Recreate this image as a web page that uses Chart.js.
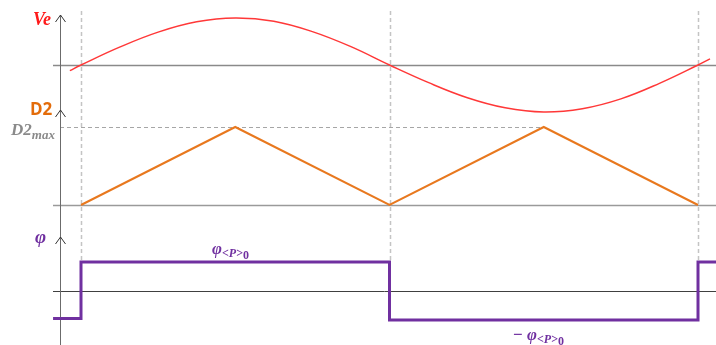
<!DOCTYPE html>
<html>
<head>
<meta charset="utf-8">
<script src="https://cdn.jsdelivr.net/npm/chart.js@4.4.1/dist/chart.umd.min.js"></script>
<style>
  html, body { margin: 0; padding: 0; background: #fff; }
  #wrap { width: 716px; height: 345px; position: relative; }
</style>
</head>
<body>
<div id="wrap"><canvas id="canvas"></canvas></div>
<script>
// angle in degrees, one period of the input voltage
const veAngles = [-6.5, 0, 22.5, 45, 67.5, 90, 112.5, 135, 157.5, 180, 202.5, 225, 247.5, 270, 292.5, 315, 337.5, 360, 367];
const veValues = [-0.12, 0, 0.38, 0.7, 0.92, 1, 0.93, 0.71, 0.39, 0, -0.37, -0.69, -0.91, -1, -0.93, -0.72, -0.39, 0, 0.13];

const d2Angles = [0, 90, 180, 270, 360];
const d2Values = [0, 1, 0, 1, 0];

const phiAngles = [-16.3, 0, 180, 360, 372];
const phiValues = [-0.95, 1, -1, 1, 1];

const zeroCrossings = [0, 180, 360];
const d2maxEnd = 270;

const toPoints = (xs, ys) => xs.map((x, i) => ({ x: x, y: ys[i] }));

const AXIS_X = 60;
const LINE_START = 53;

function subText(ctx, x, y, parts) {
  // parts: [text, font, color, dy]
  let cx = x;
  parts.forEach(p => {
    ctx.font = p[1];
    ctx.fillStyle = p[2];
    ctx.fillText(p[0], cx, y + (p[3] || 0));
    cx += ctx.measureText(p[0]).width;
  });
}

const decor = {
  id: 'decor',
  beforeDatasetsDraw(chart) {
    const ctx = chart.ctx;
    const sx = chart.scales.x;
    const yVe = chart.scales.yVe, yD2 = chart.scales.yD2, yPhi = chart.scales.yPhi;
    const right = chart.width;
    ctx.save();

    // vertical dashed lines at zero crossings
    ctx.strokeStyle = '#c4c4c4';
    ctx.lineWidth = 1.5;
    ctx.setLineDash([4, 3]);
    zeroCrossings.forEach(a => {
      const px = Math.round(sx.getPixelForValue(a)) + 0.5;
      ctx.beginPath();
      ctx.moveTo(px, 11);
      ctx.lineTo(px, yPhi.getPixelForValue(1));
      ctx.stroke();
    });

    // D2max dashed
    ctx.strokeStyle = '#a6a6a6';
    ctx.lineWidth = 1;
    const ymax = Math.round(yD2.getPixelForValue(1)) + 0.5;
    ctx.beginPath();
    ctx.moveTo(AXIS_X, ymax);
    ctx.lineTo(sx.getPixelForValue(d2maxEnd), ymax);
    ctx.stroke();
    ctx.setLineDash([]);

    // baselines
    [[yVe, '#8a8a8a', 1.5], [yD2, '#9a9a9a', 1.5], [yPhi, '#404040', 1]].forEach(b => {
      const py = Math.round(b[0].getPixelForValue(0)) + 0.5;
      ctx.strokeStyle = b[1];
      ctx.lineWidth = b[2];
      ctx.beginPath();
      ctx.moveTo(LINE_START, py);
      ctx.lineTo(right, py);
      ctx.stroke();
    });

    // vertical axis with arrow heads
    ctx.strokeStyle = '#6b6b6b';
    ctx.lineWidth = 1;
    ctx.beginPath();
    ctx.moveTo(AXIS_X + 0.5, 15);
    ctx.lineTo(AXIS_X + 0.5, chart.height);
    ctx.stroke();
    ctx.strokeStyle = '#333';
    [15, 110, 237].forEach(t => {
      ctx.beginPath();
      ctx.moveTo(AXIS_X - 4.5, t + 7);
      ctx.lineTo(AXIS_X + 0.5, t);
      ctx.lineTo(AXIS_X + 5.5, t + 7);
      ctx.stroke();
    });
    ctx.restore();
  },
  afterDraw(chart) {
    const ctx = chart.ctx;
    ctx.save();
    ctx.textBaseline = 'alphabetic';
    ctx.textAlign = 'left';
    const purple = '#7030a0';
    subText(ctx, 33, 25, [['Ve', "bold italic 18px 'Liberation Serif'", '#ff1a1a']]);
    subText(ctx, 30, 115, [['D2', "bold 17px 'Open Sans'", '#e36c0a']]);
    subText(ctx, 11, 135, [['D2', "bold italic 17px 'Liberation Serif'", '#8a8a8a'],
                           ['max', "bold italic 13px 'Liberation Serif'", '#8a8a8a', 4]]);
    subText(ctx, 35, 243, [['φ', "bold italic 19px 'Liberation Serif'", purple]]);
    subText(ctx, 212, 254, [['φ', "bold italic 17px 'Liberation Serif'", purple],
                            ['<P>', "bold italic 12px 'Liberation Serif'", purple, 3],
                            ['0', "bold 12px 'Liberation Serif'", purple, 5]]);
    subText(ctx, 513, 340, [['− ', "bold 17px 'Liberation Serif'", purple],
                            ['φ', "bold italic 17px 'Liberation Serif'", purple],
                            ['<P>', "bold italic 12px 'Liberation Serif'", purple, 3],
                            ['0', "bold 12px 'Liberation Serif'", purple, 5]]);
    ctx.restore();
  }
};

const ctx = canvas.getContext('2d');

const config = {
  type: 'line',
  data: {
    datasets: [
      {
        label: 'Ve',
        data: toPoints(veAngles, veValues),
        yAxisID: 'yVe',
        borderColor: '#ff3838',
        borderWidth: 1.5,
        pointRadius: 0,
        tension: 0.4
      },
      {
        label: 'D2',
        data: toPoints(d2Angles, d2Values),
        yAxisID: 'yD2',
        borderColor: '#e8781e',
        borderWidth: 2,
        pointRadius: 0,
        tension: 0
      },
      {
        label: 'φ',
        data: toPoints(phiAngles, phiValues),
        yAxisID: 'yPhi',
        borderColor: '#7030a0',
        borderWidth: 3,
        pointRadius: 0,
        stepped: true
      }
    ]
  },
  options: {
    responsive: true,
    maintainAspectRatio: false,
    animation: false,
    layout: { padding: 0 },
    plugins: { legend: { display: false }, tooltip: { enabled: false } },
    scales: {
      x: { type: 'linear', display: false, min: -47.26, max: 370.5 },
      yVe: { type: 'linear', display: false, min: -5.957, max: 1.383 },
      yD2: { type: 'linear', display: false, min: -1.795, max: 2.628 },
      yPhi: { type: 'linear', display: false, min: -1.862, max: 10.03 }
    }
  },
  plugins: [decor]
};
const chart = new Chart(ctx, config);
</script>
</body>
</html>
